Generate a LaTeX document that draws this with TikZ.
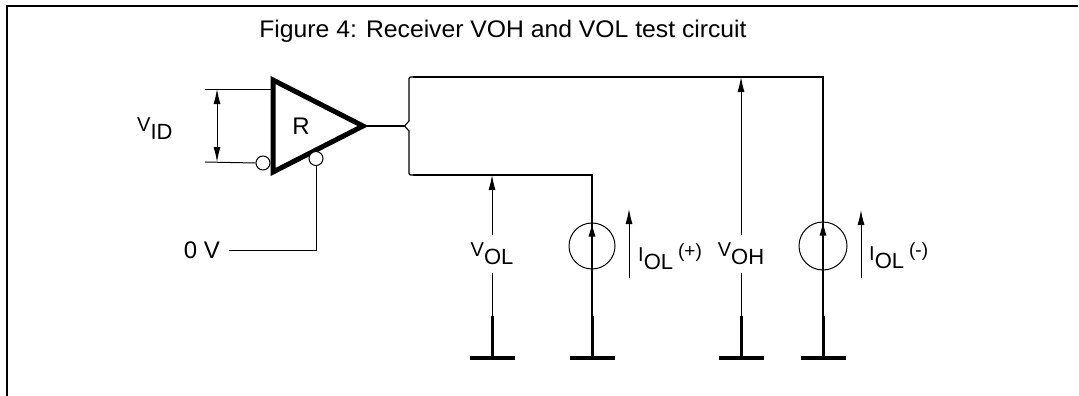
\documentclass[tikz,border=0pt]{standalone}
\usepackage{fontspec}
\setmainfont{Liberation Sans}
\newfontfamily\titlefont{Liberation Sans}[FakeStretch=1.03]
\newfontfamily\lblfont{Liberation Sans}
\usetikzlibrary{arrows.meta}
\newcommand\sublbl[2]{{\fontsize{20pt}{21pt}\selectfont #1}\raisebox{-8pt}{\fontsize{22pt}{23pt}\selectfont #2}}
\newcommand\smallpar[1]{\raisebox{4pt}{\fontsize{19pt}{20pt}\selectfont #1}}
\tikzset{
  wire/.style={line width=1.2pt, line join=miter},
  thinline/.style={line width=1pt},
  varrow/.style={thinline, -{Latex[length=15pt,width=7pt]}},
  gndbar/.style={line width=3.5pt},
  gndstem/.style={line width=3pt},
  frame/.style={line width=2.2pt},
  txt/.style={inner sep=0pt, font=\lblfont\fontsize{24pt}{25pt}\selectfont},
  lbl/.style={inner sep=0pt, font=\lblfont},
  srcnode/.style={circle, draw, line width=1pt, minimum size=#1, inner sep=0pt},
  bubble/.style={circle, draw, line width=1pt, fill=white, minimum size=14pt, inner sep=0pt},
}
\begin{document}
\begin{tikzpicture}[x=1pt,y=-1pt]
\useasboundingbox (0,0) rectangle (1079,396);
% frame
\draw[frame] (7,397) -- (7,6) -- (1078,6);
% title
\node[inner sep=0pt, font=\titlefont\fontsize{24pt}{26pt}\selectfont] (title) at (503,31) {Figure 4: Receiver VOH and VOL test circuit};

% receiver triangle
\coordinate (ta) at (273,80);
\coordinate (tb) at (273,172);
\coordinate (tc) at (363,126);
\draw[line width=5pt, line join=miter] (ta) -- (tb) -- (tc) -- cycle;
\node[txt] (R) at (301,126) {R};
% inputs
\coordinate (inA) at (205,89);
\coordinate (inAr) at (273,89);
\coordinate (inB) at (205,162);
\node[bubble] (b1) at (263,163) {};
\node[bubble] (b2) at (316,158.5) {};
\draw[thinline] (inA) -- (inAr);
\draw[thinline] (inB) -- (b1.west);
\coordinate (vidT) at (217,89);
\coordinate (vidB) at (217,162);
\draw[thinline, {Latex[length=15pt,width=7pt]}-{Latex[length=15pt,width=7pt]}] (vidT) -- (vidB);
\node[lbl, anchor=west] (vid) at (137,129) {\sublbl{V}{ID}};
% 0 V
\coordinate (zc) at (316,250);
\coordinate (zl) at (229,250);
\draw[thinline] (b2.south) -- (zc) -- (zl);
\node[txt, anchor=east] (zero) at (220,250) {0 V};

% output and brace
\coordinate (out) at (404,126);
\draw[wire] (tc) -- (out);
\coordinate (topL) at (413,77);
\coordinate (botL) at (413,175);
\draw[wire] (topL) .. controls (409,77) .. (409,81) -- (409,121) -- (404.5,126) -- (409,131) -- (409,171) .. controls (409,175) .. (botL);

% nodes along wires
\node[srcnode=46pt] (cs1) at (592,246) {};
\node[srcnode=48pt] (cs2) at (823,246) {};
\coordinate (c1) at (592,175);
\coordinate (c2) at (823,77);

% ground points
\coordinate (g1) at (492,358);
\coordinate (g2) at (592,358);
\coordinate (g3) at (741,358);
\coordinate (g4) at (823,358);
\coordinate (s1) at (492,316);
\coordinate (s2) at (592,316);
\coordinate (s3) at (741,316);
\coordinate (s4) at (823,316);

% wires
\draw[wire] (botL) -- (c1) -- (s2);
\draw[wire] (topL) -- (c2) -- (s4);
% inner arrows of current sources
\draw[-{Latex[length=14pt,width=7pt]}, line width=1.2pt] (cs1.center) -- (cs1.north);
\draw[-{Latex[length=14pt,width=7pt]}, line width=1.2pt] (cs2.center) -- (cs2.north);

% grounds
\foreach \g/\s in {g1/s1, g2/s2, g3/s3, g4/s4}{
  \draw[gndstem] (\s) -- (\g);
  \draw[gndbar] ([xshift=-22.5pt]\g) -- ([xshift=22.5pt]\g);
}

% V_OL
\node[lbl] (vol) at (492,254) {\sublbl{V}{OL}};
\coordinate (volT) at (492,175);
\coordinate (volA) at (492,235);
\coordinate (volB) at (492,273);
\draw[varrow] (volA) -- (volT);
\draw[thinline] (volB) -- (s1);

% V_OH
\node[lbl] (voh) at (741,254) {\sublbl{V}{OH}};
\coordinate (vohT) at (741,77);
\coordinate (vohA) at (741,235);
\coordinate (vohB) at (741,273);
\draw[varrow] (vohA) -- (vohT);
\draw[thinline] (vohB) -- (s3);

% I_OL arrows
\coordinate (i1B) at (629,278);
\coordinate (i1T) at (629,209);
\draw[varrow] (i1B) -- (i1T);
\node[lbl, anchor=west] (iolp) at (638,257) {\sublbl{I}{OL}\hspace{5pt}\smallpar{(+)}};
\coordinate (i2B) at (861,278);
\coordinate (i2T) at (861,210);
\draw[varrow] (i2B) -- (i2T);
\node[lbl, anchor=west] (iolm) at (869,256) {\sublbl{I}{OL}\hspace{5pt}\smallpar{(-)}};
\end{tikzpicture}
\end{document}
